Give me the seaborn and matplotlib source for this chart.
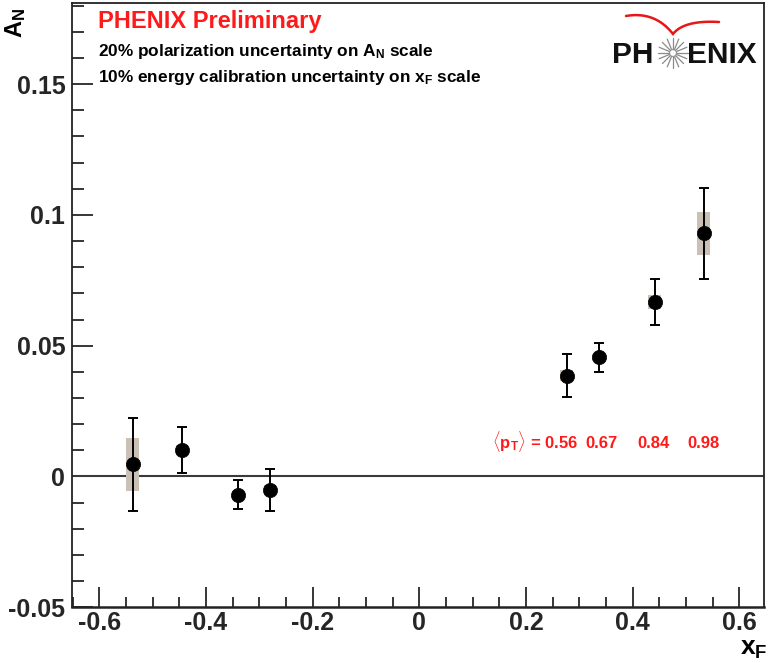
import numpy as np
import pandas as pd
import matplotlib
matplotlib.use("Agg")
import matplotlib.pyplot as plt
from matplotlib import font_manager
from matplotlib.ticker import FixedLocator, FixedFormatter, MultipleLocator
import seaborn as sns

# ---- data -------------------------------------------------------------
x_f = [-0.537, -0.445, -0.340, -0.280, 0.276, 0.336, 0.441, 0.533]
a_n = [0.0046, 0.0101, -0.0069, -0.0051, 0.0386, 0.0455, 0.0667, 0.0929]
stat_err = [0.0178, 0.0088, 0.0056, 0.0080, 0.0084, 0.0055, 0.0087, 0.0175]
sys_err = [0.0101, 0.0020, 0.0015, 0.0020, 0.0020, 0.0015, 0.0025, 0.0083]

pt_mean = [0.56, 0.67, 0.84, 0.98]

x_ticks = [-0.6, -0.4, -0.2, 0.0, 0.2, 0.4, 0.6]
x_tick_labels = ["-0.6", "-0.4", "-0.2", "0", "0.2", "0.4", "0.6"]
y_ticks = [-0.05, 0.0, 0.05, 0.1, 0.15]
y_tick_labels = ["-0.05", "0", "0.05", "0.1", "0.15"]

df = pd.DataFrame({"xF": x_f, "AN": a_n, "stat": stat_err, "sys": sys_err})

# ---- style ------------------------------------------------------------
sns.set_theme(style="ticks")
installed = {f.name for f in font_manager.fontManager.ttflist}
narrow = "Liberation Sans Narrow" if "Liberation Sans Narrow" in installed else "Liberation Sans"
tick_size = 20 if narrow == "Liberation Sans Narrow" else 18
plt.rcParams["font.family"] = ["Liberation Sans", "DejaVu Sans"]
plt.rcParams["font.weight"] = "bold"
plt.rcParams["mathtext.fontset"] = "custom"
plt.rcParams["mathtext.rm"] = "Liberation Sans:bold"
plt.rcParams["mathtext.bf"] = "Liberation Sans:bold"
plt.rcParams["mathtext.it"] = "Liberation Sans:bold:italic"

W, H = 769, 663
fig = plt.figure(figsize=(W / 100, H / 100), dpi=100)
fig.patch.set_facecolor("white")

left, right, top, bottom = 72.3, 764.0, 3.0, 607.3
ax = fig.add_axes([left / W, 1 - bottom / H, (right - left) / W, (bottom - top) / H])
ax.set_facecolor("white")

# systematic boxes
ax.bar(df["xF"], 2 * df["sys"], bottom=df["AN"] - df["sys"], width=0.024,
       color="#cbc0b5", edgecolor="none", zorder=2)
# zero line
ax.axhline(0, color="#3a3a3a", lw=1.5, zorder=1)
# statistical error bars
ax.errorbar(df["xF"], df["AN"], yerr=df["stat"], fmt="none", ecolor="black",
            elinewidth=1.4, capsize=3.5, capthick=1.4, zorder=3)
# data points
sns.scatterplot(data=df, x="xF", y="AN", ax=ax, color="black", s=105,
                edgecolor="black", linewidth=0.5, zorder=4, legend=False)

ax.set_xlim(-0.6506, 0.6463)
ax.set_ylim(-0.05, 0.181)
ax.set_xlabel("")
ax.set_ylabel("")

ax.xaxis.set_major_locator(FixedLocator(x_ticks))
ax.xaxis.set_major_formatter(FixedFormatter(x_tick_labels))
ax.xaxis.set_minor_locator(MultipleLocator(0.05))
ax.yaxis.set_major_locator(FixedLocator(y_ticks))
ax.yaxis.set_major_formatter(FixedFormatter(y_tick_labels))
ax.yaxis.set_minor_locator(MultipleLocator(0.01))

ax.tick_params(axis="x", which="major", direction="in", length=14.4, width=1.1,
               color="black", pad=3, labelsize=tick_size)
ax.tick_params(axis="x", which="minor", direction="in", length=7.2, width=1.1, color="black")
ax.tick_params(axis="y", which="major", direction="in", length=15, width=1.1,
               color="black", pad=5, labelsize=tick_size)
ax.tick_params(axis="y", which="minor", direction="in", length=8.5, width=1.1, color="black")
for lab in ax.get_xticklabels() + ax.get_yticklabels():
    lab.set_fontfamily(narrow)
    lab.set_fontweight("bold")

for side in ["left", "bottom", "top", "right"]:
    ax.spines[side].set_visible(True)
    ax.spines[side].set_color("#222222")
    ax.spines[side].set_linewidth(1.3)
ax.spines["bottom"].set_linewidth(1.8)

# axis titles
fig.text(3 / W, 1 - 38 / H, r"$\mathbf{A_N}$", rotation=90, ha="left", va="bottom",
         fontsize=17, color="black")
fig.text(740 / W, 1 - 655 / H, r"$\mathbf{x_F}$", ha="left", va="baseline",
         fontsize=19, color="black")

# header texts
fig.text(98 / W, 1 - 28 / H, "PHENIX Preliminary", color="#ff1a1a", fontsize=17,
         fontweight="bold", ha="left", va="baseline")
fig.text(98 / W, 1 - 56 / H, r"20% polarization uncertainty on $\mathbf{A_N}$ scale",
         color="black", fontsize=12.4, fontweight="bold", ha="left", va="baseline")
fig.text(98 / W, 1 - 82 / H, r"10% energy calibration uncertainty on $\mathbf{x_F}$ scale",
         color="black", fontsize=12.4, fontweight="bold", ha="left", va="baseline")

# mean pT annotations
red = "#ff1a1a"
fig.text(492 / W, 1 - 448 / H, r"$\langle$p$_\mathbf{T}\rangle$ = " + f"{pt_mean[0]:.2f}",
         color=red, fontsize=12, fontweight="bold", ha="left", va="baseline")
for xp, v in zip([585, 637, 687], pt_mean[1:]):
    fig.text(xp / W, 1 - 448 / H, f"{v:.2f}", color=red, fontsize=12,
             fontweight="bold", ha="left", va="baseline")

# PHENIX logo
logo = fig.add_axes([600 / W, 1 - 80 / H, 165 / W, 75 / H])
logo.set_xlim(600, 765)
logo.set_ylim(80, 5)
logo.axis("off")
logo.patch.set_alpha(0)
logo.text(612, 63, "PH", fontsize=21.5, fontweight="bold", color="#111111",
          ha="left", va="baseline")
logo.text(687, 63, "ENIX", fontsize=21.5, fontweight="bold", color="#111111",
          ha="left", va="baseline")
cx, cy = 673, 53
for ang in np.linspace(0, 2 * np.pi, 16, endpoint=False):
    logo.plot([cx + 4 * np.cos(ang), cx + 15 * np.cos(ang)],
              [cy + 4 * np.sin(ang), cy + 15 * np.sin(ang)],
              color="#8a8a8a", lw=0.9, solid_capstyle="round")
logo.add_patch(plt.Circle((cx, cy), 3.5, fill=False, ec="#9a9a9a", lw=0.9))


def qbez(p0, p1, p2, n=30):
    t = np.linspace(0, 1, n)[:, None]
    p0, p1, p2 = map(np.asarray, (p0, p1, p2))
    pts = (1 - t) ** 2 * p0 + 2 * (1 - t) * t * p1 + t ** 2 * p2
    return pts[:, 0], pts[:, 1]


xs1, ys1 = qbez((626, 16), (655, 11), (673, 34))
xs2, ys2 = qbez((673, 34), (684, 20), (719, 22))
logo.plot(np.r_[xs1, xs2], np.r_[ys1, ys2], color="#e8161b", lw=1.8,
          solid_joinstyle="miter")

fig.savefig("out.png", dpi=100)
